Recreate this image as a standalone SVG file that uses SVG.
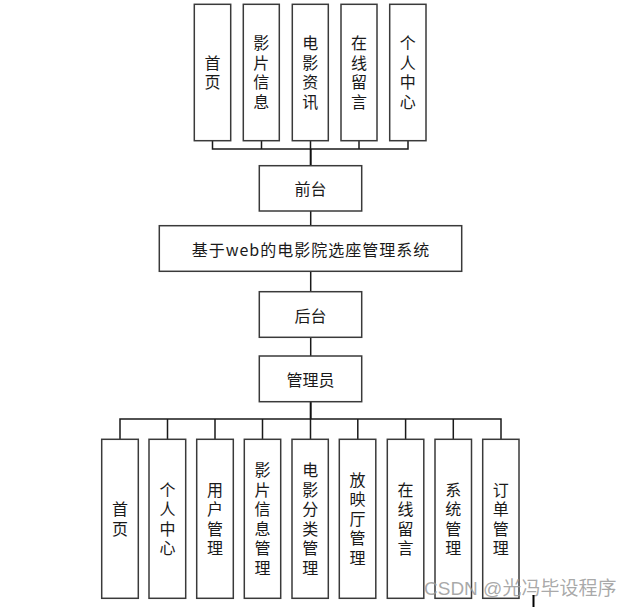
<svg xmlns="http://www.w3.org/2000/svg" width="631" height="607" viewBox="0 0 631 607">
<style>
.box{fill:#fff;stroke:#3a3a3a;stroke-width:1.5}
.ln{stroke:#1a1a1a;stroke-width:1.5;fill:none}
.t{font-family:"Noto Sans CJK SC","Liberation Serif",serif;font-size:16px;fill:#1a1a1a;text-anchor:middle;dominant-baseline:central}
.v{font-family:"Noto Sans CJK SC","Liberation Serif",serif;font-size:16px;fill:#1a1a1a;text-anchor:middle;writing-mode:vertical-rl;letter-spacing:3.5px}
.wm{font-family:"Liberation Sans","Noto Sans CJK SC",sans-serif;font-size:19px;fill:#9a9a9a;fill-opacity:0.85}
</style>
<rect width="631" height="607" fill="#fff"/>
<g id="connectors">
<path class="ln" d="M212.5 141V149H408V141M261.5 141V149M310.5 141V149M359 141V149"/>
<path d="M310.7 149V165.7" stroke="#111" stroke-width="2"/>
<path class="ln" d="M310.7 211V225.7M310.7 271.3V291.7M310.7 337.3V356"/>
<path d="M310.7 401.7V419" stroke="#111" stroke-width="2"/>
<path class="ln" d="M120 439.3V419H501V439.3M167.5 419V439.3M215 419V439.3M262.5 419V439.3M310.5 419V439.3M357.8 419V439.3M405.6 419V439.3M453.3 419V439.3"/>
</g>
<g id="n_shouye_top"><rect class="box" x="194.3" y="4.3" width="36.4" height="136.4"/><text class="v" x="212.5" y="74.3">首页</text></g>
<g id="n_yingpian_top"><rect class="box" x="243.3" y="4.3" width="36" height="136.4"/><text class="v" x="261.3" y="74.3">影片信息</text></g>
<g id="n_zixun_top"><rect class="box" x="292.3" y="4.3" width="36" height="136.4"/><text class="v" x="310.3" y="74.3">电影资讯</text></g>
<g id="n_liuyan_top"><rect class="box" x="341" y="4.3" width="36" height="136.4"/><text class="v" x="359" y="74.3">在线留言</text></g>
<g id="n_geren_top"><rect class="box" x="389.7" y="4.3" width="36.3" height="136.4"/><text class="v" x="407.8" y="74.3">个人中心</text></g>
<g id="n_qiantai"><rect class="box" x="259.3" y="165.7" width="102.4" height="45.3"/><text class="t" x="310.5" y="188.4">前台</text></g>
<g id="n_main"><rect class="box" x="159.3" y="225.7" width="302.4" height="45.6"/><text class="t" x="311" y="248.5" style="letter-spacing:1px">基于web的电影院选座管理系统</text></g>
<g id="n_houtai"><rect class="box" x="259.3" y="291.7" width="102.4" height="45.6"/><text class="t" x="310.5" y="314.5">后台</text></g>
<g id="n_admin"><rect class="box" x="259.3" y="356" width="102.4" height="45.7"/><text class="t" x="310.5" y="378.8">管理员</text></g>
<g id="n_b1"><rect class="box" x="101.7" y="439.3" width="36.6" height="159"/><text class="v" x="120" y="520.5">首页</text></g>
<g id="n_b2"><rect class="box" x="149" y="439.3" width="36.7" height="159"/><text class="v" x="167.4" y="520.5">个人中心</text></g>
<g id="n_b3"><rect class="box" x="196.7" y="439.3" width="36.6" height="159"/><text class="v" x="215" y="520.5">用户管理</text></g>
<g id="n_b4"><rect class="box" x="244.3" y="439.3" width="36.4" height="159"/><text class="v" x="262.5" y="520.5">影片信息管理</text></g>
<g id="n_b5"><rect class="box" x="292" y="439.3" width="36.3" height="159"/><text class="v" x="310.2" y="520.5">电影分类管理</text></g>
<g id="n_b6"><rect class="box" x="339.3" y="439.3" width="36.5" height="159"/><text class="v" x="357.5" y="520.5">放映厅管理</text></g>
<g id="n_b7"><rect class="box" x="387.3" y="439.3" width="36.5" height="159"/><text class="v" x="405.5" y="520.5">在线留言</text></g>
<g id="n_b8"><rect class="box" x="435" y="439.3" width="36.5" height="159"/><text class="v" x="453.2" y="520.5">系统管理</text></g>
<g id="n_b9"><rect class="box" x="482.7" y="439.3" width="36.3" height="159"/><text class="v" x="500.8" y="520.5">订单管理</text></g>
<text class="wm" x="424" y="595">CSDN @光冯毕设程序</text>
<path d="M533.5 595V607" stroke="#000" stroke-width="2"/>
</svg>
